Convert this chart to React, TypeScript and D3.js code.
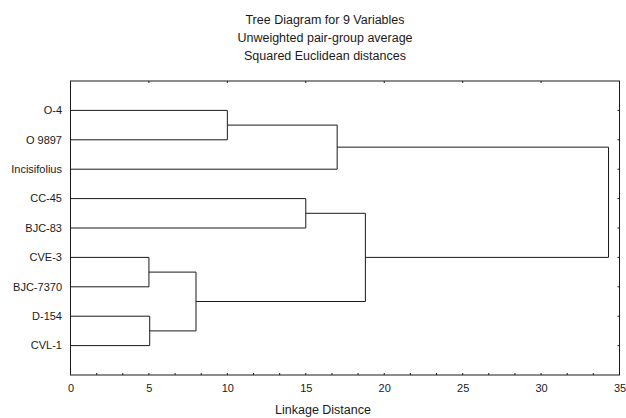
import React, { useEffect, useRef } from 'react';
import * as d3 from 'd3';

// Statistica style tree diagram (horizontal dendrogram)

const TITLE_LINES = ['Tree Diagram for 9 Variables', 'Unweighted pair-group average', 'Squared Euclidean distances'];
const LEAVES = ['O-4', 'O 9897', 'Incisifolius', 'CC-45', 'BJC-83', 'CVE-3', 'BJC-7370', 'D-154', 'CVL-1'];
// merge steps: children (leaf names or m<index>) and linkage distance
const MERGE_A = ['CVE-3', 'D-154', 'm0', 'O-4', 'CC-45', 'm3', 'm4', 'm5'];
const MERGE_B = ['BJC-7370', 'CVL-1', 'm1', 'O 9897', 'BJC-83', 'Incisifolius', 'm2', 'm6'];
const MERGE_DIST = [5.0, 5.05, 8.0, 10.0, 15.0, 17.0, 18.8, 34.3];
const X_TICKS = [0, 5, 10, 15, 20, 25, 30, 35];

const App = () => {
    const svgRef = useRef<SVGSVGElement>(null);

    useEffect(() => {
        const svg = d3.select(svgRef.current);
        svg.selectAll('*').remove();

        const width = 626;
        const height = 418;
        const margin = { top: 81, right: 6.5, bottom: 43, left: 70.5 };
        const font = '"Liberation Sans", Arial, sans-serif';
        const ink = '#1a1a1a';

        svg.attr('width', width).attr('height', height);
        svg.append('rect').attr('width', width).attr('height', height).attr('fill', '#fff');

        const x = d3.scaleLinear().domain([0, 35]).range([margin.left, width - margin.right]);
        const y = d3.scaleLinear().domain([0, LEAVES.length + 1]).range([margin.top, height - margin.bottom]);

        // titles
        svg.append('g')
            .selectAll('text')
            .data(TITLE_LINES)
            .join('text')
            .attr('x', 325)
            .attr('y', (d, i) => 24 + i * 18)
            .attr('text-anchor', 'middle')
            .style('font-family', font)
            .style('font-size', '12.5px')
            .attr('fill', ink)
            .text(d => d);

        // frame
        svg.append('rect')
            .attr('x', x(0))
            .attr('y', y(0))
            .attr('width', x(35) - x(0))
            .attr('height', y(LEAVES.length + 1) - y(0))
            .attr('fill', 'none')
            .attr('stroke', ink)
            .attr('stroke-width', 1);

        // bottom axis
        const bottom = svg.append('g').attr('transform', `translate(0,${y(LEAVES.length + 1)})`);
        bottom.call(d3.axisBottom(x).tickValues(X_TICKS).tickSize(0).tickPadding(9).tickFormat(d3.format('d')));
        bottom.select('.domain').remove();
        bottom.selectAll('text').style('font-family', font).style('font-size', '11px').attr('fill', ink);

        const minorTicks = d3.range(0, 35.01, 5 / 3);
        svg.append('g')
            .selectAll('line')
            .data(minorTicks)
            .join('line')
            .attr('x1', d => x(d)).attr('x2', d => x(d))
            .attr('y1', y(LEAVES.length + 1)).attr('y2', y(LEAVES.length + 1) - 2)
            .attr('stroke', ink);

        svg.append('g')
            .selectAll('line')
            .data(X_TICKS)
            .join('line')
            .attr('x1', d => x(d)).attr('x2', d => x(d))
            .attr('y1', y(0)).attr('y2', y(0) + 2)
            .attr('stroke', ink);

        // right side ticks
        svg.append('g')
            .selectAll('line')
            .data(LEAVES)
            .join('line')
            .attr('x1', x(35)).attr('x2', x(35) - 2)
            .attr('y1', (d, i) => y(i + 1)).attr('y2', (d, i) => y(i + 1))
            .attr('stroke', ink);

        svg.append('text')
            .attr('x', 323)
            .attr('y', 414)
            .attr('text-anchor', 'middle')
            .style('font-family', font)
            .style('font-size', '12.5px')
            .attr('fill', ink)
            .text('Linkage Distance');

        // leaf labels
        svg.append('g')
            .selectAll('text')
            .data(LEAVES)
            .join('text')
            .attr('x', 62)
            .attr('y', (d, i) => y(i + 1))
            .attr('dy', '0.35em')
            .attr('text-anchor', 'end')
            .style('font-family', font)
            .style('font-size', '11px')
            .attr('fill', ink)
            .text(d => d);

        // node positions
        const pos: Record<string, { h: number; k: number }> = {};
        LEAVES.forEach((name, i) => { pos[name] = { h: 0, k: i + 1 }; });

        const path = d3.path();
        MERGE_DIST.forEach((dist, i) => {
            const a = pos[MERGE_A[i]];
            const b = pos[MERGE_B[i]];
            path.moveTo(x(a.h), y(a.k));
            path.lineTo(x(dist), y(a.k));
            path.lineTo(x(dist), y(b.k));
            path.lineTo(x(b.h), y(b.k));
            pos['m' + i] = { h: dist, k: (a.k + b.k) / 2 };
        });

        svg.append('path')
            .attr('d', path.toString())
            .attr('fill', 'none')
            .attr('stroke', ink)
            .attr('stroke-width', 1);
    }, []);

    return (
        <svg ref={svgRef} style={{ position: 'absolute', left: 0, top: 0 }}></svg>
    );
};

export default App;
